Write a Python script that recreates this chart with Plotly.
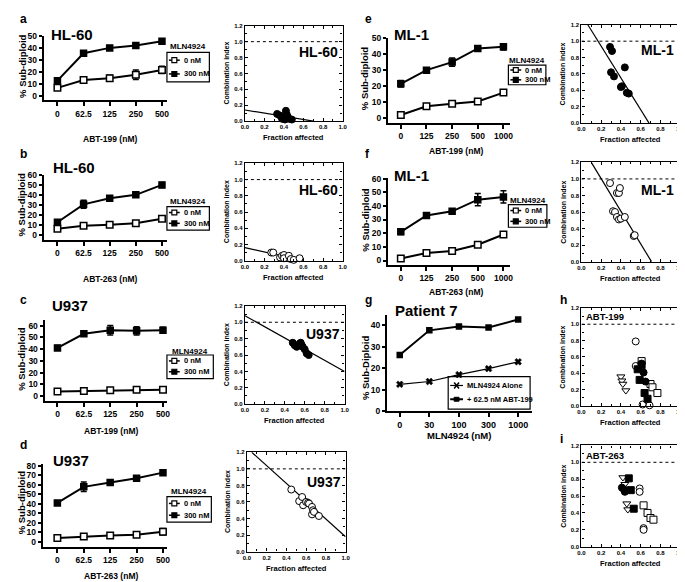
import plotly.graph_objects as go

W, H = 685, 582
FONT = "Liberation Sans, Arial, Helvetica, sans-serif"

# ---------------- data ----------------
abt_doses = ["0", "62.5", "125", "250", "500"]
ml1_doses = ["0", "125", "250", "500", "1000"]
mln_doses = ["0", "30", "100", "300", "1000"]

# a: HL-60, ABT-199
a_0nm = [6.5, 13.0, 14.5, 17.5, 21.5]
a_0nm_err = [0.8, 1.5, 2.5, 4.0, 3.0]
a_300nm = [12.5, 35.5, 40.0, 42.0, 45.5]
a_300nm_err = [0.8, 0.8, 0.8, 0.8, 1.5]
# b: HL-60, ABT-263
b_0nm = [6.5, 9.5, 10.5, 12.0, 16.5]
b_0nm_err = [1.0, 1.8, 1.8, 1.2, 2.2]
b_300nm = [13.0, 31.0, 37.0, 40.5, 50.5]
b_300nm_err = [1.0, 4.0, 1.0, 2.0, 2.5]
# c: U937, ABT-199
c_0nm = [4.0, 4.5, 5.0, 5.5, 5.5]
c_0nm_err = [0.6, 0.6, 0.6, 0.6, 0.6]
c_300nm = [41.0, 53.0, 56.0, 55.5, 56.0]
c_300nm_err = [2.0, 2.0, 4.0, 3.5, 2.5]
# d: U937, ABT-263
d_0nm = [4.0, 5.5, 6.5, 7.5, 10.5]
d_0nm_err = [1.0, 1.0, 1.2, 2.5, 3.5]
d_300nm = [41.0, 58.0, 62.5, 67.0, 73.0]
d_300nm_err = [2.0, 5.0, 2.0, 2.5, 1.0]
# e: ML-1, ABT-199
e_0nm = [2.0, 7.5, 9.0, 10.5, 16.0]
e_0nm_err = [0.5, 0.5, 0.5, 0.5, 0.5]
e_300nm = [21.5, 30.0, 35.0, 43.5, 44.5]
e_300nm_err = [2.0, 1.0, 2.5, 1.0, 2.0]
# f: ML-1, ABT-263
f_0nm = [1.5, 5.5, 7.0, 11.5, 19.0]
f_0nm_err = [0.5, 0.5, 0.5, 0.5, 0.5]
f_300nm = [21.0, 33.0, 36.0, 44.5, 46.5]
f_300nm_err = [2.0, 2.0, 1.0, 4.5, 4.5]
# g: Patient 7
g_alone = [12.5, 13.8, 17.0, 19.8, 23.0]
g_combo = [26.2, 37.7, 39.5, 39.0, 42.8]

# combination index panels (fraction affected, CI)
ci_a_fa = [0.33, 0.36, 0.38, 0.38, 0.40, 0.41, 0.42, 0.43, 0.44, 0.45, 0.48]
ci_a_ci = [0.09, 0.07, 0.03, 0.05, 0.04, 0.02, 0.13, 0.08, 0.05, 0.03, 0.02]
ci_a_fit_fa = [0.0, 0.70]
ci_a_fit_ci = [0.14, 0.0]

ci_b_fa = [0.27, 0.29, 0.36, 0.38, 0.40, 0.40, 0.45, 0.47, 0.50, 0.56]
ci_b_ci = [0.10, 0.10, 0.04, 0.06, 0.07, 0.03, 0.06, 0.02, 0.01, 0.03]
ci_b_fit_fa = [0.0, 0.60]
ci_b_fit_ci = [0.16, 0.0]

ci_c_fa = [0.48, 0.50, 0.52, 0.55, 0.56, 0.57, 0.58, 0.60, 0.62, 0.64]
ci_c_ci = [0.75, 0.72, 0.70, 0.74, 0.75, 0.72, 0.70, 0.67, 0.62, 0.60]
ci_c_fit_fa = [0.0, 1.0]
ci_c_fit_ci = [1.08, 0.40]

ci_d_fa = [0.45, 0.53, 0.56, 0.57, 0.60, 0.62, 0.63, 0.66, 0.66, 0.67, 0.68, 0.73]
ci_d_ci = [0.75, 0.61, 0.66, 0.56, 0.60, 0.59, 0.58, 0.54, 0.45, 0.50, 0.48, 0.43]
ci_d_fit_fa = [0.05, 1.0]
ci_d_fit_ci = [1.20, 0.18]

ci_e_fa = [0.29, 0.31, 0.30, 0.33, 0.40, 0.41, 0.44, 0.46, 0.48]
ci_e_ci = [0.93, 0.88, 0.62, 0.57, 0.44, 0.45, 0.68, 0.37, 0.36]
ci_e_fit_fa = [0.065, 0.685]
ci_e_fit_ci = [1.20, 0.0]

ci_f_fa = [0.29, 0.36, 0.38, 0.39, 0.32, 0.34, 0.36, 0.38, 0.40, 0.44, 0.53, 0.54]
ci_f_ci = [0.95, 0.83, 0.83, 0.89, 0.61, 0.60, 0.54, 0.51, 0.52, 0.54, 0.31, 0.32]
ci_f_fit_fa = [0.10, 0.71]
ci_f_fit_ci = [1.20, 0.0]

h_open_circle_fa = [0.55, 0.55, 0.62, 0.69]
h_open_circle_ci = [0.79, 0.49, 0.02, 0.01]
h_filled_square_fa = [0.57, 0.61, 0.59, 0.64, 0.67]
h_filled_square_ci = [0.45, 0.50, 0.32, 0.16, 0.09]
h_filled_circle_fa = [0.61, 0.63, 0.65]
h_filled_circle_ci = [0.52, 0.41, 0.30]
h_open_square_fa = [0.61, 0.70, 0.72, 0.77]
h_open_square_ci = [0.55, 0.27, 0.23, 0.16]
h_triangle_fa = [0.40, 0.41, 0.42, 0.45]
h_triangle_ci = [0.36, 0.31, 0.27, 0.19]

i_triangle_fa = [0.42, 0.44, 0.46, 0.47]
i_triangle_ci = [0.82, 0.74, 0.51, 0.44]
i_filled_square_fa = [0.48, 0.50, 0.53]
i_filled_square_ci = [0.81, 0.67, 0.45]
i_filled_circle_fa = [0.41, 0.43, 0.44]
i_filled_circle_ci = [0.70, 0.68, 0.65]
i_open_circle_fa = [0.59, 0.59, 0.63, 0.63]
i_open_circle_ci = [0.69, 0.65, 0.22, 0.20]
i_open_square_fa = [0.63, 0.67, 0.70, 0.73]
i_open_square_ci = [0.49, 0.40, 0.34, 0.32]

ci_reference = 1.0

# ---------------- helpers ----------------
fig = go.Figure()
axes = {}
annotations = []
shapes = []
count = [0]


def tfont(size):
    return dict(family=FONT, size=size, color="black", weight="bold")


def new_axes(x0, x1, y0, y1, xkw, ykw):
    count[0] += 1
    i = count[0]
    s = "" if i == 1 else str(i)
    axes["xaxis" + s] = dict(domain=[x0 / W, x1 / W], anchor="y" + s, **xkw)
    axes["yaxis" + s] = dict(domain=[1 - y1 / H, 1 - y0 / H], anchor="x" + s, **ykw)
    return "x" + s, "y" + s


def text(x, y, s, size, anchor="center", angle=0):
    annotations.append(dict(x=x / W, y=1 - y / H, xref="paper", yref="paper",
                            text="<b>" + s + "</b>", showarrow=False,
                            font=dict(family=FONT, size=size, color="black"),
                            xanchor=anchor, yanchor="middle", textangle=angle))


def pshape(kind, x0, y0, x1, y1, fill=None, width=1.2, dash=None):
    d = dict(type=kind, xref="paper", yref="paper",
             x0=x0 / W, x1=x1 / W, y0=1 - y0 / H, y1=1 - y1 / H,
             line=dict(color="black", width=width))
    if dash:
        d["line"]["dash"] = dash
    if fill:
        d["fillcolor"] = fill
    shapes.append(d)


def line_panel(box, xr, yr, ticks, series, tick_size=8.5):
    x0, x1, y0, y1 = box
    xa, ya = new_axes(
        x0, x1, y0, y1,
        dict(range=xr, tickmode="array", tickvals=list(range(len(ticks))), ticktext=ticks,
             showline=True, linecolor="black", linewidth=2, ticks="outside", ticklen=4,
             tickwidth=2, tickcolor="black", tickfont=tfont(tick_size), showgrid=False,
             zeroline=False, fixedrange=True),
        dict(range=yr, tick0=0, dtick=10, showline=True, linecolor="black", linewidth=2,
             ticks="outside", ticklen=3, tickwidth=2, tickcolor="black",
             tickfont=tfont(8.5), showgrid=False, zeroline=False, fixedrange=True))
    for s in series:
        fig.add_trace(go.Scatter(
            x=list(range(len(ticks))), y=s["y"], xaxis=xa, yaxis=ya, mode="lines+markers",
            name=s["name"], showlegend=False, cliponaxis=False,
            line=dict(color="black", width=s.get("lw", 2)),
            marker=dict(symbol=s["symbol"], size=s.get("size", 6.5), color=s["fill"],
                        line=dict(color="black", width=s.get("mlw", 1.5))),
            error_y=(dict(type="data", array=s["err"], color="black", thickness=1.5, width=3)
                     if s.get("err") is not None else None)))
    return xa, ya


def pair(y0n, e0n, y300, e300):
    return [
        dict(name="0 nM", y=y0n, err=e0n, symbol="square", fill="white"),
        dict(name="300 nM", y=y300, err=e300, symbol="square", fill="black", size=6),
    ]


def ci_panel(box, groups, fit=None):
    x0, x1, y0, y1 = box
    common = dict(showline=True, mirror="allticks", linecolor="black", linewidth=1.2,
                  ticks="inside", ticklen=3, tickwidth=1, tickcolor="black",
                  tickfont=tfont(6), showgrid=False, zeroline=False, fixedrange=True,
                  tickformat=".1f",
                  minor=dict(ticks="inside", ticklen=2, tickcolor="black", dtick=0.1))
    xa, ya = new_axes(x0, x1, y0, y1,
                      dict(range=[0, 1.0], tick0=0, dtick=0.2, **common),
                      dict(range=[0, 1.2], tick0=0, dtick=0.2, **common))
    shapes.append(dict(type="line", xref=xa, yref=ya, x0=0, x1=1, y0=ci_reference,
                       y1=ci_reference, line=dict(color="black", width=1, dash="dot")))
    if fit is not None:
        fig.add_trace(go.Scatter(x=fit[0], y=fit[1], xaxis=xa, yaxis=ya, mode="lines",
                                 showlegend=False, line=dict(color="black", width=1.2)))
    for g in groups:
        fig.add_trace(go.Scatter(
            x=g["x"], y=g["y"], xaxis=xa, yaxis=ya, mode="markers", showlegend=False,
            cliponaxis=False,
            marker=dict(symbol=g["symbol"], size=g.get("size", 7), color=g["fill"],
                        line=dict(color="black", width=1))))
    cx = (x0 + x1) / 2
    text(cx, y1 + 17, "Fraction affected", 7.5)
    text(x0 - 19, (y0 + y1) / 2, "Combination index", 7, angle=-90)
    return xa, ya


def mln_legend(x0, x1, ytitle, y0, y1, rows):
    text((x0 + x1) / 2, ytitle, "MLN4924", 8)
    pshape("rect", x0, y0, x1, y1, width=1.2)
    for r, fill, lab in zip(rows, ["white", "black"], ["0 nM", "300 nM"]):
        pshape("line", x0 + 2, r, x0 + 13, r, width=1.5)
        pshape("rect", x0 + 5, r - 2.5, x0 + 10, r + 2.5, fill=fill, width=1.2)
        text(x0 + 15, r, lab, 7.5, anchor="left")


# ---------------- line panels ----------------
line_panel((32, 157, 23, 89), [-0.53, 4.19], [-4.1, 50.3], abt_doses,
           pair(a_0nm, a_0nm_err, a_300nm, a_300nm_err))
line_panel((32, 157, 165, 231), [-0.53, 4.19], [-4.9, 60.3], abt_doses,
           pair(b_0nm, b_0nm_err, b_300nm, b_300nm_err))
line_panel((33, 157, 312, 395), [-0.49, 4.15], [-4.2, 65], abt_doses,
           pair(c_0nm, c_0nm_err, c_300nm, c_300nm_err))
line_panel((31, 157, 459, 543), [-0.56, 4.15], [-5.2, 82], abt_doses,
           pair(d_0nm, d_0nm_err, d_300nm, d_300nm_err))
line_panel((381, 505, 25, 112), [-0.5, 4.27], [-3.0, 50.3], ml1_doses,
           pair(e_0nm, e_0nm_err, e_300nm, e_300nm_err))
line_panel((381, 505, 168, 256), [-0.5, 4.27], [-3.0, 60.3], ml1_doses,
           pair(f_0nm, f_0nm_err, f_300nm, f_300nm_err))
line_panel((380, 527, 307, 405), [-0.43, 4.47], [0, 45], mln_doses,
           [dict(name="MLN4924 Alone", y=g_alone, err=None, symbol="x", fill="black",
                 size=6, lw=1.2, mlw=0.5),
            dict(name="+ 62.5 nM ABT-199", y=g_combo, err=None, symbol="square",
                 fill="black", size=5, lw=2)], tick_size=9)

# ---------------- CI panels ----------------
ci_panel((236, 335, 13, 110),
         [dict(x=ci_a_fa, y=ci_a_ci, symbol="circle", fill="black")],
         (ci_a_fit_fa, ci_a_fit_ci))
ci_panel((236, 335, 153, 252),
         [dict(x=ci_b_fa, y=ci_b_ci, symbol="circle", fill="white")],
         (ci_b_fit_fa, ci_b_fit_ci))
ci_panel((236, 337, 298, 398),
         [dict(x=ci_c_fa, y=ci_c_ci, symbol="circle", fill="black")],
         (ci_c_fit_fa, ci_c_fit_ci))
ci_panel((238, 338, 447, 548),
         [dict(x=ci_d_fa, y=ci_d_ci, symbol="circle", fill="white")],
         (ci_d_fit_fa, ci_d_fit_ci))
ci_panel((577, 677, 12, 112),
         [dict(x=ci_e_fa, y=ci_e_ci, symbol="circle", fill="black")],
         (ci_e_fit_fa, ci_e_fit_ci))
ci_panel((577, 677, 152, 253),
         [dict(x=ci_f_fa, y=ci_f_ci, symbol="circle", fill="white")],
         (ci_f_fit_fa, ci_f_fit_ci))
ci_panel((577, 677, 300, 400),
         [dict(x=h_triangle_fa, y=h_triangle_ci, symbol="triangle-down", fill="white"),
          dict(x=h_open_circle_fa, y=h_open_circle_ci, symbol="circle", fill="white"),
          dict(x=h_open_square_fa, y=h_open_square_ci, symbol="square", fill="white"),
          dict(x=h_filled_square_fa, y=h_filled_square_ci, symbol="square", fill="black"),
          dict(x=h_filled_circle_fa, y=h_filled_circle_ci, symbol="circle", fill="black")])
ci_panel((577, 677, 440, 543),
         [dict(x=i_triangle_fa, y=i_triangle_ci, symbol="triangle-down", fill="white"),
          dict(x=i_open_circle_fa, y=i_open_circle_ci, symbol="circle", fill="white"),
          dict(x=i_open_square_fa, y=i_open_square_ci, symbol="square", fill="white"),
          dict(x=i_filled_square_fa, y=i_filled_square_ci, symbol="square", fill="black"),
          dict(x=i_filled_circle_fa, y=i_filled_circle_ci, symbol="circle", fill="black")])

# ---------------- texts ----------------
for lx, ly, lt in [(6, 6, "a"), (6, 143, "b"), (6, 292, "c"), (6, 440, "d"),
                   (356, 6, "e"), (356, 143, "f"), (356, 292, "g"), (553, 292, "h"),
                   (553, 433, "i")]:
    text(lx, ly, lt, 12, anchor="left")

for tx, ty, tt in [(61, 22, "HL-60"), (63, 157, "HL-60"), (59, 298, "U937"),
                   (60, 455, "U937"), (405, 22, "ML-1"), (405, 165, "ML-1"),
                   (420, 303, "Patient 7")]:
    text(tx, ty, tt, 15)

for tx, ty, tt in [(332, 40, "HL-60"), (332, 180, "HL-60"), (334, 327, "U937"),
                   (335, 477, "U937"), (673, 38, "ML-1"), (673, 180, "ML-1")]:
    text(tx, ty, tt, 14, anchor="right")
text(580, 309, "ABT-199", 9.5, anchor="left")
text(580, 450, "ABT-263", 9.5, anchor="left")

for yx, yy, yt in [(10, 54, "% Sub-diploid"), (10, 195, "% Sub-diploid"),
                   (10, 352, "% Sub-diploid"), (10, 498, "% Sub-diploid"),
                   (358, 66, "% Sub-diploid"), (358, 210, "% Sub-diploid"),
                   (359, 361, "% Sub-Diploid")]:
    text(yx, yy, yt, 9.5, angle=-90)

for xx, xy, xt, xs in [(99, 128, "ABT-199 (nM)", 8.5), (99, 271, "ABT-263 (nM)", 8.5),
                       (100, 425, "ABT-199 (nM)", 8.5), (100, 573, "ABT-263 (nM)", 8.5),
                       (450, 140, "ABT-199 (nM)", 8.5), (450, 284, "ABT-263 (nM)", 8.5),
                       (453, 430, "MLN4924 (nM)", 9.5)]:
    text(xx, xy, xt, xs)

# legends
mln_legend(157, 200, 34, 40, 70, [48, 62])
mln_legend(157, 200, 192, 197, 221, [203, 214])
mln_legend(157, 204, 344, 348, 372, [354, 365])
mln_legend(157, 202, 487, 492, 518, [499, 511])
mln_legend(503, 541, 48, 53, 73, [58, 68])
mln_legend(503, 542, 191, 195, 218, [201, 212])

# g legend
pshape("rect", 442, 370, 525, 403, width=1.2)
pshape("line", 444, 379, 457, 379, width=1.2)
pshape("line", 448, 376, 453, 382, width=1.5)
pshape("line", 448, 382, 453, 376, width=1.5)
text(459, 379, "MLN4924 Alone", 7.5, anchor="left")
pshape("line", 444, 393, 457, 393, width=2)
pshape("rect", 448, 391, 453, 395, fill="black", width=1)
text(459, 393, "+ 62.5 nM ABT-199", 7.5, anchor="left")

fig.update_layout(
    width=W, height=H, margin=dict(l=0, r=0, t=0, b=0),
    paper_bgcolor="white", plot_bgcolor="white", showlegend=False,
    font=dict(family=FONT, color="black"),
    annotations=annotations, shapes=shapes, **axes)

fig.write_html("out.html")
